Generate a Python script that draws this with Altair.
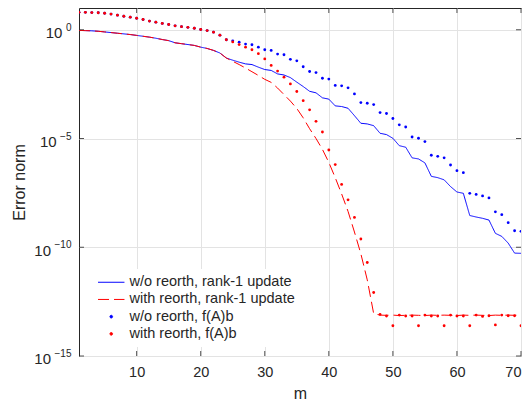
import altair as alt
import pandas as pd

# iteration index
m_values = list(range(1, 71))

# log10 of the error norm
blue_line_exp = [
    -0.03, -0.04, -0.05, -0.07, -0.10, -0.13, -0.16, -0.19, -0.22, -0.26,
    -0.30, -0.34, -0.39, -0.45, -0.50, -0.60, -0.64, -0.68, -0.72, -0.80,
    -0.86, -0.95, -1.07, -1.30, -1.40, -1.49, -1.57, -1.60, -1.72, -1.83,
    -1.87, -2.03, -2.08, -2.20, -2.41, -2.61, -2.83, -2.90, -3.13, -3.19,
    -3.50, -3.53, -3.61, -3.95, -4.30, -4.33, -4.41, -4.76, -4.82, -4.99,
    -5.33, -5.40, -5.89, -5.94, -6.12, -6.74, -6.80, -6.90, -7.21, -7.46,
    -7.52, -8.54, -8.61, -8.67, -8.75, -9.36, -9.50, -9.81, -10.27, -10.28,
]
red_line_exp = blue_line_exp[:24] + [
    -1.45, -1.60, -1.76, -1.93, -2.10, -2.28, -2.42, -2.68, -2.98, -3.28,
    -3.62, -4.05, -4.55, -5.00, -5.50, -6.10, -6.80, -7.55, -8.35, -9.30,
    -10.30, -11.50, -13.05,
    -13.12, -13.13, -13.12, -13.14, -13.13, -13.12, -13.13, -13.14, -13.12,
    -13.13, -13.12, -13.13, -13.14, -13.12, -13.13, -13.12, -13.13, -13.14,
    -13.12, -13.13, -13.12, -13.13, -13.12,
]
dots_shared_exp = [
    0.80, 0.80, 0.79, 0.78, 0.76, 0.72, 0.67, 0.62, 0.58, 0.53,
    0.47, 0.40, 0.35, 0.29, 0.24, 0.18, 0.14, 0.11, 0.07, 0.01,
    -0.04, -0.11, -0.25, -0.46,
]
blue_dots_exp = dots_shared_exp + [
    -0.51, -0.57, -0.66, -0.69, -0.80, -0.92, -0.95, -1.12, -1.15, -1.36,
    -1.43, -1.70, -1.92, -1.97, -2.23, -2.27, -2.56, -2.58, -2.67, -2.95,
    -3.35, -3.38, -3.44, -3.81, -3.85, -4.08, -4.37, -4.47, -4.93, -4.99,
    -5.14, -5.77, -5.82, -5.89, -6.22, -6.48, -6.57, -7.52, -7.57, -7.64,
    -7.73, -8.37, -8.50, -8.87, -9.24, -9.27,
]
red_dots_exp = dots_shared_exp + [
    -0.56, -0.68, -0.80, -0.92, -1.10, -1.34, -1.64, -1.90, -2.18, -2.49,
    -2.84, -3.26, -3.68, -4.21, -4.70, -5.53, -6.20, -7.11, -7.82, -8.63,
    -9.62, -10.70, -12.08, -13.09, -13.16, -13.61, -13.12, -13.16, -13.16, -13.61,
    -13.12, -13.16, -13.16, -13.61, -13.12, -13.16, -13.16, -13.61, -13.12, -13.18,
    -13.15, -13.57, -13.12, -13.15, -13.15, -13.61,
]

series_names = [
    "w/o reorth, rank-1 update",
    "with reorth, rank-1 update",
    "w/o reorth, f(A)b",
    "with reorth, f(A)b",
]
x_ticks = [10, 20, 30, 40, 50, 60, 70]
y_ticks = [1e-15, 1e-10, 1e-5, 1e0]
y_tick_exponents = ["\u221215", "\u221210", "\u22125", "0"]

def frame(exps, name):
    return pd.DataFrame({"m": m_values, "err": [10.0 ** e for e in exps], "series": name})

lines_df = pd.concat([frame(blue_line_exp, series_names[0]), frame(red_line_exp, series_names[1])])
dots_df = pd.concat([frame(blue_dots_exp, series_names[2]), frame(red_dots_exp, series_names[3])])

FONT = "Liberation Sans"
TXT = "#262626"
GRID = "#e3e3e3"

xscale = alt.Scale(domain=[1, 70], nice=False, zero=False)
yscale = alt.Scale(type="log", domain=[1e-15, 10], nice=False)

xaxis = alt.Axis(values=x_ticks, ticks=False, domain=False, grid=True, gridColor=GRID,
                 labelFont=FONT, labelFontSize=14.5, labelColor=TXT, labelPadding=9,
                 title="m", titleFont=FONT, titleFontSize=16, titleFontWeight="normal",
                 titleColor=TXT, titleY=42, titleBaseline="alphabetic")
yaxis = alt.Axis(values=y_ticks, ticks=False, domain=False, grid=True, gridColor=GRID,
                 labels=False,
                 title="Error norm", titleFont=FONT, titleFontSize=16, titleFontWeight="normal",
                 titleColor=TXT, titleX=-60, titleBaseline="middle")

legend = alt.Legend(title=None, orient="none", legendX=11, legendY=261, fillColor="white",
                    padding=6, labelFont=FONT, labelFontSize=14.5, labelColor=TXT,
                    labelLimit=400, symbolStrokeWidth=1, symbolSize=7, rowPadding=2.2,
                    labelOffset=11, symbolOffset=8)

color_scale = alt.Scale(domain=series_names, range=["#0000ff", "#ff0000", "#0000ff", "#ff0000"])
dash_scale = alt.Scale(domain=series_names, range=[[1, 0], [11, 5], [1, 0], [1, 0]])
shape_scale = alt.Scale(domain=series_names, range=["M-10,0H10", "M-10,0H10", "circle", "circle"])

lines = alt.Chart(lines_df).mark_line(strokeWidth=1, clip=True).encode(
    x=alt.X("m:Q", scale=xscale, axis=xaxis),
    y=alt.Y("err:Q", scale=yscale, axis=yaxis),
    color=alt.Color("series:N", scale=color_scale, legend=legend),
    strokeDash=alt.StrokeDash("series:N", scale=dash_scale, legend=legend),
)
dots = alt.Chart(dots_df).mark_point(filled=True, opacity=1, size=8, clip=True).encode(
    x=alt.X("m:Q", scale=xscale),
    y=alt.Y("err:Q", scale=yscale),
    color=alt.Color("series:N", scale=color_scale, legend=legend),
    shape=alt.Shape("series:N", scale=shape_scale, legend=legend),
)

tick_df = pd.DataFrame({"xt": x_ticks})
ytick_df = pd.DataFrame({"yt": y_ticks, "base": ["10"] * len(y_ticks), "expo": y_tick_exponents})
bottom_ticks = alt.Chart(tick_df).mark_rule(color=TXT, strokeWidth=0.8).encode(
    x=alt.X("xt:Q", scale=xscale), y=alt.value(348), y2=alt.value(343))
top_ticks = alt.Chart(tick_df).mark_rule(color=TXT, strokeWidth=0.8).encode(
    x=alt.X("xt:Q", scale=xscale), y=alt.value(0), y2=alt.value(5))
left_ticks = alt.Chart(ytick_df).mark_rule(color=TXT, strokeWidth=0.8).encode(
    y=alt.Y("yt:Q", scale=yscale), x=alt.value(0), x2=alt.value(5))
right_ticks = alt.Chart(ytick_df).mark_rule(color=TXT, strokeWidth=0.8).encode(
    y=alt.Y("yt:Q", scale=yscale), x=alt.value(442), x2=alt.value(437))

# y tick labels drawn as "10" plus a raised exponent (MATLAB style)
EXP_RIGHT = -7.5
EXP_SIZE = 10
def expo_width(s):
    return sum(5.84 if ch == "\u2212" else 5.56 for ch in s) * EXP_SIZE / 10

expo_layer = alt.Chart(ytick_df).mark_text(
    align="right", baseline="alphabetic", dy=1, fontSize=EXP_SIZE, font=FONT, color=TXT
).encode(y=alt.Y("yt:Q", scale=yscale), x=alt.value(EXP_RIGHT), text="expo:N")

base_layers = []
for i, s in enumerate(y_tick_exponents):
    base_layers.append(
        alt.Chart(ytick_df.iloc[[i]]).mark_text(
            align="right", baseline="alphabetic", dy=8.3, fontSize=15, font=FONT, color=TXT
        ).encode(y=alt.Y("yt:Q", scale=yscale),
                 x=alt.value(EXP_RIGHT - expo_width(s) - 3.5), text="base:N")
    )

chart = alt.layer(lines, dots, bottom_ticks, top_ticks, left_ticks, right_ticks,
                  expo_layer, *base_layers).properties(
    width=442, height=348,
    autosize=alt.AutoSizeParams(type="none"),
    padding={"left": 71, "top": 0, "right": 1, "bottom": 45},
).configure_view(stroke=TXT, strokeWidth=1)

chart.save("out.html", embed_options={"renderer": "svg", "actions": False})
